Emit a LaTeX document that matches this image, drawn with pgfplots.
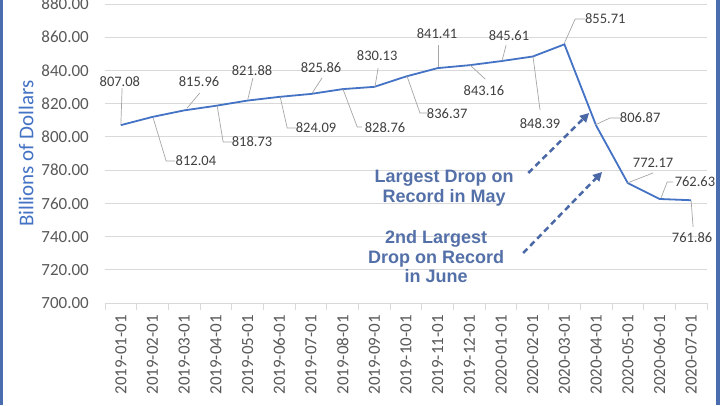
\documentclass[border=0pt]{standalone}
\usepackage{pgfplots}
\pgfplotsset{compat=1.18}
\usepackage{fontspec}
\setmainfont{Carlito}
\newfontfamily\arialfont{Liberation Sans}
\usetikzlibrary{arrows.meta}
\definecolor{linec}{HTML}{4472C4}
\definecolor{tickc}{HTML}{595959}
\definecolor{labc}{HTML}{404040}
\definecolor{gridc}{HTML}{D9D9D9}
\definecolor{leadc}{HTML}{A6A6A6}
\definecolor{annc}{HTML}{5470A8}
\definecolor{arrc}{HTML}{4A68A6}
\definecolor{barc}{HTML}{4A6DB0}
\begin{document}
\begin{tikzpicture}
\path[use as bounding box, fill=white] (-105pt,-102pt) rectangle (615pt,303pt);
\begin{axis}[
  scale only axis, width=602pt, height=299pt,
  xmin=-0.5, xmax=18.5, ymin=700, ymax=880,
  clip=false,
  axis x line*=bottom, axis y line*=left,
  x axis line style={draw=gridc, line width=0.8pt, -},
  y axis line style={draw=none},
  ytick={700,720,...,880},
  ymajorgrids, grid style={draw=gridc, line width=0.8pt},
  xtick={0,...,18},
  xticklabels={2019-01-01,2019-02-01,2019-03-01,2019-04-01,2019-05-01,2019-06-01,2019-07-01,2019-08-01,2019-09-01,2019-10-01,2019-11-01,2019-12-01,2020-01-01,2020-02-01,2020-03-01,2020-04-01,2020-05-01,2020-06-01,2020-07-01},
  minor xtick={-0.5,0.5,...,18.5},
  major tick length=0pt, minor tick length=7pt, tick align=outside,
  minor x tick style={draw=gridc, line width=0.8pt},
  major tick style={draw=none},
  tick label style={font=\fontsize{17}{17}\selectfont, text=tickc},
  xticklabel style={rotate=90, anchor=east, inner sep=0pt, xshift=-12pt},
  yticklabel style={anchor=east, inner sep=0pt, xshift=-16pt},
  /pgf/number format/.cd, fixed, fixed zerofill, precision=2, 1000 sep={}, assume math mode=true,
  /pgfplots/.cd,
  ylabel={Billions of Dollars},
  ylabel style={at={(axis description cs:-0.131,0.5)}, anchor=center, font=\fontsize{21}{21}\selectfont, text=linec},
]
\addplot[color=linec, line width=1.8pt] coordinates {
(0,807.08) (1,812.04) (2,815.96) (3,818.73) (4,821.88) (5,824.09) (6,825.86)
(7,828.76) (8,830.13) (9,836.37) (10,841.41) (11,843.16) (12,845.61) (13,848.39)
(14,855.71) (15,806.87) (16,772.17) (17,762.63) (18,761.86)};

% leader lines
\begin{scope}[leadc, line width=0.7pt]
\draw (axis cs:0,807.08) -- (axis cs:0.04,829.4);
\draw (axis cs:1.02,811.4) -- (axis cs:1.43,785.5) -- (axis cs:1.71,785.5);
\draw (axis cs:2.09,817.3) -- (axis cs:2.49,826.4);
\draw (axis cs:3.04,818.6) -- (axis cs:3.23,796.9) -- (axis cs:3.51,796.9);
\draw (axis cs:4.01,822.8) -- (axis cs:4.17,835.5);
\draw (axis cs:5.03,824.0) -- (axis cs:5.25,805.4) -- (axis cs:5.53,805.4);
\draw (axis cs:6.04,826.4) -- (axis cs:6.35,835.5);
\draw (axis cs:7.01,828.8) -- (axis cs:7.46,806.0) -- (axis cs:7.61,806.0);
\draw (axis cs:8.02,830.0) -- (axis cs:8.12,841.5);
\draw (axis cs:9.03,836.7) -- (axis cs:9.44,814.4) -- (axis cs:9.76,814.4);
\draw (axis cs:10.01,842.1) -- (axis cs:10.01,855.3);
\draw (axis cs:11.02,843.3) -- (axis cs:11.50,834.8);
\draw (axis cs:12.03,845.7) -- (axis cs:12.16,855.3);
\draw (axis cs:13.01,848.1) -- (axis cs:13.23,816.2);
\draw (axis cs:14.0,856.5) -- (axis cs:14.34,871.0) -- (axis cs:14.65,871.0);
\draw (axis cs:14.97,807.2) -- (axis cs:15.44,811.4) -- (axis cs:15.76,811.4);
\draw (axis cs:15.98,772.2) -- (axis cs:16.80,778.3);
\draw (axis cs:17.05,763.2) -- (axis cs:17.24,772.8) -- (axis cs:17.43,772.8);
\draw (axis cs:18.0,761.4) -- (axis cs:18.06,745.8);
\end{scope}

% data labels
\begin{scope}[every node/.style={font=\fontsize{14.5}{14.5}\selectfont, text=labc, inner sep=0pt}]
\node at (axis cs:-0.03,833.0) {807.08};
\node at (axis cs:2.37,785.5) {812.04};
\node at (axis cs:2.47,833.0) {815.96};
\node at (axis cs:4.14,796.9) {818.73};
\node at (axis cs:4.14,839.7) {821.88};
\node at (axis cs:6.16,805.4) {824.09};
\node at (axis cs:6.32,841.5) {825.86};
\node at (axis cs:8.34,805.4) {828.76};
\node at (axis cs:8.09,848.7) {830.13};
\node at (axis cs:10.30,813.8) {836.37};
\node at (axis cs:9.98,861.9) {841.41};
\node at (axis cs:11.46,827.6) {843.16};
\node at (axis cs:12.25,860.7) {845.61};
\node at (axis cs:13.23,807.8) {848.39};
\node at (axis cs:15.29,871.0) {855.71};
\node at (axis cs:16.39,811.4) {806.87};
\node at (axis cs:16.80,784.3) {772.17};
\node at (axis cs:18.12,772.8) {762.63};
\node at (axis cs:18.03,739.1) {761.86};
\end{scope}

% annotations
\node[align=center, font=\arialfont\bfseries\fontsize{18}{19.5}\selectfont, text=annc] at (axis cs:10.20,769.2) {Largest Drop on\\Record in May};
\node[align=center, font=\arialfont\bfseries\fontsize{18}{19.5}\selectfont, text=annc] at (axis cs:9.95,727.7) {2nd Largest\\Drop on Record\\in June};
\draw[arrc, line width=2.5pt, dash pattern=on 6pt off 4pt, -{Triangle[length=9pt,width=9pt]}] (axis cs:12.86,778.3) -- (axis cs:14.78,814.4);
\draw[arrc, line width=2.5pt, dash pattern=on 6pt off 4pt, -{Triangle[length=9pt,width=9pt]}] (axis cs:12.70,730.1) -- (axis cs:15.19,778.9);
\end{axis}
\fill[barc] (-105pt,-102pt) rectangle (-101.5pt,303pt);
\fill[barc] (610.5pt,-102pt) rectangle (615pt,303pt);
\end{tikzpicture}
\end{document}
